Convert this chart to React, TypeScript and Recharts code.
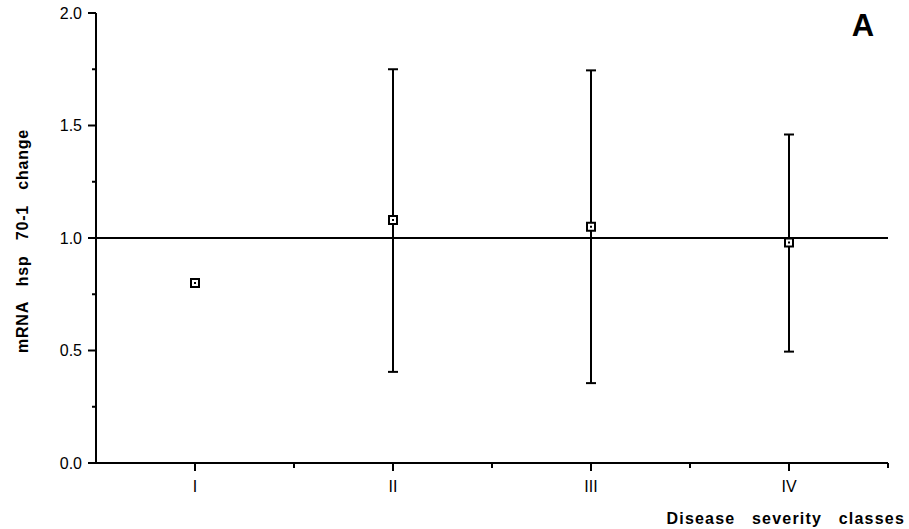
import React from 'react';
import { ComposedChart, Scatter, ErrorBar, XAxis, YAxis, ReferenceLine } from 'recharts';

const classes = ['I', 'II', 'III', 'IV'];
const meanChange = [0.8, 1.08, 1.05, 0.98];
const upperBound = [null, 1.75, 1.745, 1.46];
const lowerBound = [null, 0.405, 0.355, 0.495];
const yTicks = [0, 0.25, 0.5, 0.75, 1, 1.25, 1.5, 1.75, 2];

const data = classes.map((c, i) => ({
  cls: c,
  value: meanChange[i],
  err:
    upperBound[i] == null
      ? null
      : [meanChange[i] - (lowerBound[i] as number), (upperBound[i] as number) - meanChange[i]],
}));

const W = 909;
const H = 529;
const LEFT = 96;
const TOP = 13;
const RIGHT = 21;
const XAXIS_H = 66;
const AXIS_Y = H - XAXIS_H;
const HALF_BAND = (W - LEFT - RIGHT) / classes.length / 2;
const FONT = '"Liberation Sans", Arial, Helvetica, sans-serif';

const YTick = (props: any) => {
  const { y, payload } = props;
  const v = payload.value;
  const major = Math.abs(v * 2 - Math.round(v * 2)) < 1e-6;
  return (
    <g>
      <line x1={LEFT - (major ? 8 : 4)} x2={LEFT} y1={y} y2={y} stroke="#000" strokeWidth={2} />
      {major && (
        <text x={82} y={y} dy="0.36em" textAnchor="end" fontSize={16} fontFamily={FONT} fill="#000">
          {v.toFixed(1)}
        </text>
      )}
    </g>
  );
};

const XTick = (props: any) => {
  const { x, payload } = props;
  return (
    <g>
      <line x1={x} x2={x} y1={AXIS_Y} y2={AXIS_Y + 8} stroke="#000" strokeWidth={2} />
      <line x1={x + HALF_BAND} x2={x + HALF_BAND} y1={AXIS_Y} y2={AXIS_Y + 5} stroke="#000" strokeWidth={2} />
      <text x={x} y={AXIS_Y + 29} textAnchor="middle" fontSize={16} fontFamily={FONT} fill="#000">
        {payload.value}
      </text>
    </g>
  );
};

const SquareMark = (props: any) => {
  const { cx, cy } = props;
  return (
    <g>
      <rect x={cx - 4} y={cy - 4} width={8} height={8} fill="#fff" stroke="#000" strokeWidth={2} />
      <rect x={cx - 1} y={cy - 1} width={2} height={2} fill="#000" />
    </g>
  );
};

export default function App() {
  return (
    <div style={{ position: 'absolute', left: 0, top: 0, width: W, height: H, background: '#fff' }}>
      <ComposedChart width={W} height={H} data={data} margin={{ top: TOP, right: RIGHT, bottom: 0, left: 0 }}>
        <XAxis
          dataKey="cls"
          type="category"
          scale="band"
          height={XAXIS_H}
          axisLine={{ stroke: '#000', strokeWidth: 2 }}
          tickLine={false}
          tick={<XTick />}
          interval={0}
        />
        <YAxis
          type="number"
          domain={[0, 2]}
          ticks={yTicks}
          width={LEFT}
          axisLine={{ stroke: '#000', strokeWidth: 2 }}
          tickLine={false}
          tick={<YTick />}
          interval={0}
        />
        <ReferenceLine y={1} stroke="#000" strokeWidth={2} />
        <Scatter dataKey="value" shape={<SquareMark />} isAnimationActive={false}>
          <ErrorBar dataKey="err" direction="y" width={5} stroke="#000" strokeWidth={2} />
        </Scatter>
        <text
          transform={`translate(22, 241) rotate(-90)`}
          textAnchor="middle"
          dy="0.36em"
          fontSize={16}
          fontWeight="bold"
          fontFamily={FONT}
          letterSpacing={0.8}
          wordSpacing={10}
          fill="#000"
        >
          mRNA hsp 70-1 change
        </text>
        <text
          x={905}
          y={524}
          textAnchor="end"
          fontSize={16}
          fontWeight="bold"
          fontFamily={FONT}
          letterSpacing={1.2}
          wordSpacing={11}
          fill="#000"
        >
          Disease severity classes
        </text>
        <text x={863} y={36} textAnchor="middle" fontSize={31} fontWeight="bold" fontFamily={FONT} fill="#000">
          A
        </text>
      </ComposedChart>
    </div>
  );
}
